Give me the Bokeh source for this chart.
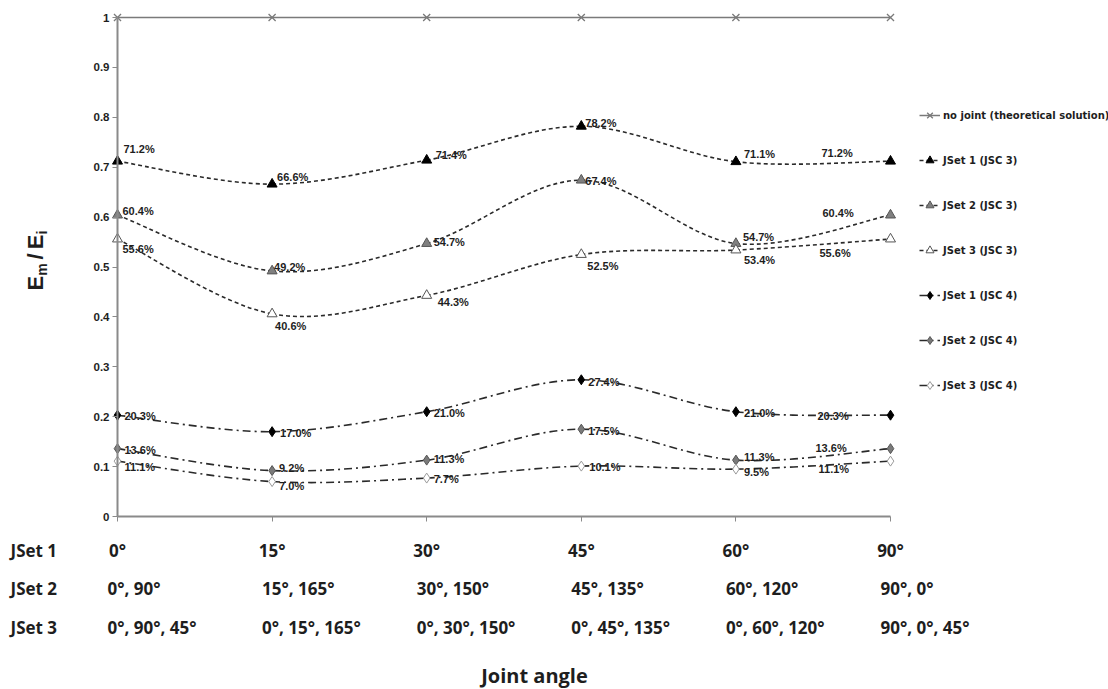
import math
from bokeh.plotting import figure
from bokeh.models import (Range1d, FixedTicker, NumeralTickFormatter, Label,
                          Legend, LegendItem, ColumnDataSource)
from bokeh.embed import file_html
from bokeh.resources import INLINE
from bokeh.core.properties import value

# ---------------- data ----------------
joint_angle_index = [0, 1, 2, 3, 4, 5]
row_names = ["JSet 1", "JSet 2", "JSet 3"]
jset1_angles = ["0°", "15°", "30°", "45°", "60°", "90°"]
jset2_angles = ["0°, 90°", "15°, 165°", "30°, 150°", "45°, 135°", "60°, 120°", "90°, 0°"]
jset3_angles = ["0°, 90°, 45°", "0°, 15°, 165°", "0°, 30°, 150°", "0°, 45°, 135°",
                "0°, 60°, 120°", "90°, 0°, 45°"]

no_joint = [1, 1, 1, 1, 1, 1]
jset1_jsc3 = [0.712, 0.666, 0.714, 0.782, 0.711, 0.712]
jset2_jsc3 = [0.604, 0.492, 0.547, 0.674, 0.547, 0.604]
jset3_jsc3 = [0.556, 0.406, 0.443, 0.525, 0.534, 0.556]
jset1_jsc4 = [0.203, 0.170, 0.210, 0.274, 0.210, 0.203]
jset2_jsc4 = [0.136, 0.092, 0.113, 0.175, 0.113, 0.136]
jset3_jsc4 = [0.111, 0.070, 0.077, 0.101, 0.095, 0.111]

y_ticks = [0, 0.1, 0.2, 0.3, 0.4, 0.5, 0.6, 0.7, 0.8, 0.9, 1]

# data-label offsets in pixels (dx right, dy down)
off_j1c3 = ([6, 5, 9, 4, 8, -69], [-12, -7, -5, -3, -8, -8])
off_j2c3 = ([5, 2, 7, 4, 7, -68], [-4, -4, -2, 1, -7, -2])
off_j3c3 = ([5, 3, 11, 6, 8, -71], [10, 12, 7, 11, 10, 14])
off_j1c4 = ([7, 8, 7, 7, 8, -73], [1, 1, 1, 2, 1, 1])
off_j2c4 = ([7, 7, 7, 7, 8, -75], [1, -3, -1, 2, -3, -1])
off_j3c4 = ([7, 7, 7, 8, 8, -72], [6, 4, 1, 1, 3, 8])

# ---------------- layout ----------------
W, H = 1108, 689
ORIGIN_X, ORIGIN_Y = 117, 516   # pixel position of (0°, 0)
PX_X = 154.6                    # pixels per category step
PX_Y = 499.0                    # pixels per unit of Em/Ei


def X(px):
    return (px - ORIGIN_X) / PX_X


def Y(py):
    return (ORIGIN_Y - py) / PX_Y


p = figure(width=W, height=H, output_backend="svg", toolbar_location=None,
           x_range=Range1d(X(0), X(W)), y_range=Range1d(Y(H), Y(0)),
           min_border=0, min_border_left=0, min_border_right=0,
           min_border_top=0, min_border_bottom=0)
p.outline_line_color = None
p.xgrid.visible = False
p.ygrid.visible = False
p.background_fill_color = "white"
p.border_fill_color = "white"

AX_COL = "#8a8a8a"
TXT = "#1e1e1e"

# axes drawn at the data origin
p.yaxis.fixed_location = 0
p.yaxis.bounds = (0, 1)
p.yaxis.ticker = FixedTicker(ticks=y_ticks)
p.yaxis.formatter = NumeralTickFormatter(format="0.[0]")
p.yaxis.axis_line_color = AX_COL
p.yaxis.axis_line_width = 2
p.yaxis.major_tick_line_color = AX_COL
p.yaxis.major_tick_out = 5
p.yaxis.major_tick_in = 0
p.yaxis.minor_tick_line_color = None
p.yaxis.major_label_standoff = 3
p.yaxis.major_label_text_font = "Liberation Sans"
p.yaxis.major_label_text_font_style = "bold"
p.yaxis.major_label_text_font_size = "11.5px"
p.yaxis.major_label_text_color = TXT

p.xaxis.fixed_location = 0
p.xaxis.bounds = (0, 5)
p.xaxis.ticker = FixedTicker(ticks=joint_angle_index)
p.xaxis.major_label_overrides = {i: lab for i, lab in zip(joint_angle_index, jset1_angles)}
p.xaxis.axis_line_color = AX_COL
p.xaxis.axis_line_width = 2
p.xaxis.major_tick_line_color = AX_COL
p.xaxis.major_tick_out = 5
p.xaxis.major_tick_in = 0
p.xaxis.minor_tick_line_color = None
p.xaxis.major_label_standoff = 17
p.xaxis.major_label_text_font = "Open Sans"
p.xaxis.major_label_text_font_style = "bold"
p.xaxis.major_label_text_font_size = "17px"
p.xaxis.major_label_text_color = TXT


def smooth_segments(xs, ys):
    """Bezier segments (Catmull-Rom style smoothing, as Excel smoothed lines)."""
    n = len(xs)
    seg = dict(x0=[], y0=[], x1=[], y1=[], cx0=[], cy0=[], cx1=[], cy1=[])
    for i in range(n - 1):
        i0 = max(i - 1, 0)
        i3 = min(i + 2, n - 1)
        seg["x0"].append(xs[i]); seg["y0"].append(ys[i])
        seg["x1"].append(xs[i + 1]); seg["y1"].append(ys[i + 1])
        seg["cx0"].append(xs[i] + (xs[i + 1] - xs[i0]) / 6)
        seg["cy0"].append(ys[i] + (ys[i + 1] - ys[i0]) / 6)
        seg["cx1"].append(xs[i + 1] - (xs[i3] - xs[i]) / 6)
        seg["cy1"].append(ys[i + 1] - (ys[i3] - ys[i]) / 6)
    return ColumnDataSource(seg)


legend_items = []
NAN = float("nan")

# no joint (theoretical solution)
nj_line = p.line(joint_angle_index, no_joint, line_color="#7a7a7a", line_width=1.5)
nj_pts = p.scatter(joint_angle_index, no_joint, marker="x", size=10,
                   line_color="#7a7a7a", line_width=1.3)
legend_items.append(LegendItem(label="no joint (theoretical solution)",
                               renderers=[nj_line, nj_pts]))

series = [
    ("JSet 1 (JSC 3)", jset1_jsc3, "triangle", "#000000", "#000000", "4 3", off_j1c3),
    ("JSet 2 (JSC 3)", jset2_jsc3, "triangle", "#808080", "#555555", "4 3", off_j2c3),
    ("JSet 3 (JSC 3)", jset3_jsc3, "triangle", "#ffffff", "#555555", "4 3", off_j3c3),
    ("JSet 1 (JSC 4)", jset1_jsc4, "diamond", "#000000", "#000000", "8 4 2 4", off_j1c4),
    ("JSet 2 (JSC 4)", jset2_jsc4, "diamond", "#7a7a7a", "#555555", "8 4 2 4", off_j2c4),
    ("JSet 3 (JSC 4)", jset3_jsc4, "diamond", "#ffffff", "#9a9a9a", "8 4 2 4", off_j3c4),
]

LINE_COL = "#2a2a2a"
for name, vals, marker, fill, outline, dash, offs in series:
    src = smooth_segments(joint_angle_index, vals)
    p.bezier(x0="x0", y0="y0", x1="x1", y1="y1", cx0="cx0", cy0="cy0",
             cx1="cx1", cy1="cy1", source=src, line_color=LINE_COL,
             line_width=1.6, line_dash=dash)
    # legend-only line (no visible points on the plot)
    dummy = p.line(x=[NAN, NAN], y=[NAN, NAN], line_color=LINE_COL,
                   line_width=1.6, line_dash=dash)
    pts = p.scatter(joint_angle_index, vals, marker=marker, size=10,
                    fill_color=fill, line_color=outline, line_width=1)
    lab_src = ColumnDataSource(dict(
        x=joint_angle_index, y=vals,
        t=[f"{v * 100:.1f}%" for v in vals],
        dx=offs[0], dy=offs[1]))
    p.text(x="x", y="y", text="t", x_offset="dx", y_offset="dy", source=lab_src,
           text_align="left", text_baseline="middle",
           text_font=value("Liberation Sans"), text_font_style="bold",
           text_font_size="11px", text_color=TXT)
    legend_items.append(LegendItem(label=name, renderers=[dummy, pts]))

# legend: top at y=105 px, left at x=919 px (location is from frame bottom-left)
LEG_ITEM, LEG_GAP = 20, 25
leg_h = len(legend_items) * LEG_ITEM + (len(legend_items) - 1) * LEG_GAP
legend = Legend(items=legend_items, location=(919, H - 105 - leg_h),
                glyph_width=21, glyph_height=LEG_ITEM, label_height=LEG_ITEM,
                spacing=LEG_GAP, label_standoff=3, padding=0, margin=0,
                border_line_alpha=0, background_fill_alpha=0,
                label_text_font="DejaVu Sans", label_text_font_style="bold",
                label_text_font_size="10px", label_text_color=TXT)
p.add_layout(legend, "center")

# table of joint angles below the axis (row 1 is the x-axis tick labels)
rows = [jset1_angles, jset2_angles, jset3_angles]
row_y = [550, 588, 627]
for r, (rname, labels) in enumerate(zip(row_names, rows)):
    p.add_layout(Label(x=X(10), y=Y(row_y[r]), text=rname,
                       text_baseline="middle", text_align="left",
                       text_font="Open Sans", text_font_style="bold",
                       text_font_size="17px", text_color=TXT))
    if r == 0:
        continue
    for i, lab in zip(joint_angle_index, labels):
        p.add_layout(Label(x=i, y=Y(row_y[r]), x_offset=-10, text=lab,
                           text_baseline="middle", text_align="left",
                           text_font="Open Sans", text_font_style="bold",
                           text_font_size="17px", text_color=TXT))

p.add_layout(Label(x=X(534), y=Y(675), text="Joint angle", text_align="center",
                   text_baseline="middle", text_font="Open Sans",
                   text_font_style="bold", text_font_size="20px", text_color=TXT))

# y-axis title: E_m / E_i (rotated, built from pieces; reads bottom to top)
ang = math.pi / 2
main_fs, sub_fs = 22, 14
main_x = X(43 - 0.35 * main_fs)     # cap centre of the main letters
sub_x = X(46.5 - 0.35 * sub_fs)     # subscripts sit lower (to the right)
y_e = 290
y_m = y_e - 0.667 * main_fs
y_sl = y_m - 0.889 * sub_fs - 4
y_e2 = y_sl - 0.278 * main_fs - 4
y_i = y_e2 - 0.667 * main_fs
yl_parts = [
    ("E", main_x, y_e, main_fs),
    ("m", sub_x, y_m, sub_fs),
    ("/", main_x, y_sl, main_fs),
    ("E", main_x, y_e2, main_fs),
    ("i", sub_x, y_i, sub_fs),
]
for txt, xx, iy, fs in yl_parts:
    p.add_layout(Label(x=xx, y=Y(iy), text=txt, angle=ang, text_align="left",
                       text_baseline="middle", text_font="Liberation Sans",
                       text_font_style="bold", text_font_size=f"{fs}px",
                       text_color=TXT))

open("out.html", "w").write(file_html(p, INLINE))
